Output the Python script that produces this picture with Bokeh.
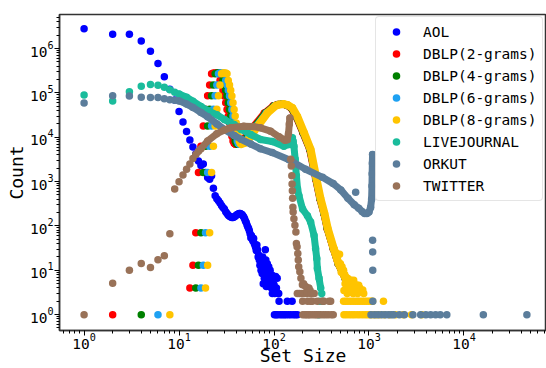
from bokeh.plotting import figure
from bokeh.models import Range1d, FixedTicker, LogTickFormatter, Legend, LegendItem
from bokeh.embed import file_html
from bokeh.resources import INLINE

# ---------------- data ----------------
series_names = ["AOL", "DBLP(2-grams)", "DBLP(4-grams)", "DBLP(6-grams)", "DBLP(8-grams)",
                "LIVEJOURNAL", "ORKUT", "TWITTER"]

# AOL
aol_x = [1, 2, 3, 4, 5, 6, 7, 8, 9, 10, 11, 12, 13, 14, 15, 16, 17, 18, 19, 20,
         21, 22, 23, 24, 25, 26, 27, 28, 29, 30, 31, 32, 33, 34, 35, 36, 37, 38, 39, 40,
         41, 42, 43, 44, 45, 46, 47, 48, 49, 50, 51, 52, 53, 54, 55, 56, 57, 58, 59, 60,
         61, 62, 63, 64, 65, 66, 67, 68, 69, 70, 71, 72, 73, 74, 75, 76, 77, 78, 79, 80,
         81, 82, 83, 84, 85, 86, 87, 88, 89, 90, 91, 92, 94, 95, 96, 98, 100, 102, 104, 106,
         108, 110, 112, 113, 138, 155,
         101, 105, 109, 116, 122, 128, 134, 142, 150, 160, 168, 176]
aol_y = [2.8e6, 2.1e6, 2.1e6, 1.48e6, 8.7e5, 4.6e5, 2.3e5, 1.2e5, 6.9e4, 3.8e4,
         2.2e4, 1.35e4, 8.7e3, 6.0e3, 4.2e3, 2.9e3, 2.3e3, 2.5e3, 1.6e3, 1.24e3,
         1.13e3, 1.35e3, 710, 480, 410, 370, 330, 290, 260, 240,
         210, 190, 175, 165, 160, 155, 155, 160, 165, 175,
         180, 185, 190, 190, 185, 180, 170, 160, 145, 130,
         120, 105, 95, 87, 78, 67, 54, 60, 50, 46,
         52, 40, 37, 33, 28, 37, 29, 20, 22, 17,
         13, 17, 10, 13, 8.5, 20, 5, 12, 6.6, 10,
         29, 17, 4.3, 8, 14, 7.8, 5, 12, 4.7, 7,
         10, 6, 4, 7.8, 3, 5, 4.7, 3, 7.2, 4,
         6.6, 3, 3, 2, 2, 2,
         1, 1, 1, 1, 1, 1, 1, 1, 1, 1, 1, 1]

# DBLP: isolated points (shared counts, x shifted by the gram length)
dblp_sparse_counts = [1, 4, 13, 70, 1.6e3, 6.3e3, 1.8e4, 4.3e4, 8.6e4, 1.5e5,
                      2.7e5, 2.8e5, 2.8e5, 2.8e5, 2.7e5, 1.9e5, 1.5e5, 1.15e5, 8.5e4, 6.0e4,
                      4.2e4, 3.0e4, 2.1e4, 1.45e4, 1.05e4, 8.2e3, 7.3e3, 7.0e3]
dblp2_sparse_x = [2, 13, 14, 15, 16, 17, 18, 19, 20, 21, 22, 23, 24, 25, 26, 27, 28, 29,
                  30, 31, 32, 33, 34, 35, 36, 37, 38, 39]
dblp4_sparse_x = [4, 15, 16, 17, 18, 19, 20, 21, 22, 23, 24, 25, 26, 27, 28, 29, 30, 31,
                  32, 33, 34, 35, 36, 37, 38, 39, 40, 41]
dblp6_sparse_x = [6, 17, 18, 19, 20, 21, 22, 23, 24, 25, 26, 27, 28, 29, 30, 31, 32, 33,
                  34, 35, 36, 37, 38, 39, 40, 41, 42, 43]
dblp8_sparse_x = [8, 19, 20, 21, 22, 23, 24, 25, 26, 27, 28, 29, 30, 31, 32, 33, 34, 35,
                  36, 37, 38, 39, 40, 41, 42, 43, 44, 45]
# DBLP: dense part (drawn as a band)
dblp_curve_counts = [7.0e3, 7.5e3, 1.0e4, 1.77e4, 3.5e4, 5.1e4, 5.5e4, 5.6e4, 5.3e4, 4.6e4,
                     2.95e4, 1.26e4, 5.3e3, 1.14e3, 410, 190, 87, 31, 14.3, 6.6, 5.2]
dblp2_curve_x = [39, 44, 50, 61, 79, 98, 109, 121, 134, 150, 170, 201, 237, 274, 303, 334,
                 362, 419, 471, 559, 614]
dblp4_curve_x = [41, 46, 52, 63, 81, 100, 111, 123, 136, 152, 172, 203, 239, 276, 305, 336,
                 364, 421, 473, 561, 616]
dblp6_curve_x = [43, 48, 54, 65, 83, 102, 113, 125, 138, 154, 174, 205, 241, 278, 307, 338,
                 366, 423, 475, 563, 618]
dblp8_curve_x = [45, 50, 56, 67, 85, 104, 115, 127, 140, 156, 176, 207, 243, 280, 309, 340,
                 368, 425, 477, 565, 620]
# DBLP(8-grams): low-count tail
dblp8_tail_x = [430, 450, 470, 490, 460, 480, 500, 520, 540, 510, 530, 555, 575, 600, 625,
                650, 690, 560, 610, 640, 700, 750, 780, 580, 660, 720, 800, 860, 590, 680,
                760, 880, 545, 705,
                540, 570, 600, 640, 680, 720, 760, 800, 850, 900, 950, 1000, 1050, 1090, 1420,
                545, 580, 620, 660, 700, 750, 800, 860, 920, 980, 1040, 1120, 1200, 1300,
                1450, 1650, 1900, 2300, 2800, 3600]
dblp8_tail_y = [30, 25, 22, 23, 18, 15, 14, 12, 10, 9, 9.5, 8, 7, 6.5, 6,
                6, 6, 5, 5, 5, 5, 4.6, 4.6, 4, 4, 4, 4, 3.6, 3, 3,
                3, 3, 3.5, 3.5,
                2, 2, 2, 2, 2, 2, 2, 2, 2, 2, 2, 2, 2, 2, 2,
                1, 1, 1, 1, 1, 1, 1, 1, 1, 1, 1, 1, 1, 1,
                1, 1, 1, 1, 1, 1]

# LIVEJOURNAL
lj_sparse_x = [1, 2, 3, 4, 5, 6, 7, 8, 9, 318, 303, 325, 295]
lj_sparse_y = [9.0e4, 6.6e4, 1.06e5, 1.41e5, 1.54e5, 1.48e5, 1.34e5, 1.17e5, 1.03e5,
               3, 2, 2, 1]
lj_curve_x = [10, 12, 14, 17, 20, 25, 30, 38, 45, 57, 72, 96, 127, 144, 152, 156, 159,
              162, 167, 172, 177, 183, 200, 225, 243, 264, 274, 282, 286, 298, 310]
lj_curve_y = [9.4e4, 8.0e4, 6.5e4, 4.95e4, 4.0e4, 3.2e4, 2.5e4, 1.93e4, 1.5e4, 1.15e4,
              8.9e3, 8.0e3, 6.3e3, 6.9e3, 8.5e3, 9.7e3, 8.0e3, 6.3e3, 3.2e3, 1.35e3,
              680, 480, 240, 170, 122, 61, 31, 18.5, 11, 6.6, 4]

# ORKUT
ork_sparse_x = [1, 2, 3, 4, 5, 6, 7, 8, 9, 724, 1092, 1094, 1096, 1098,
                1050, 1150, 1250, 1360, 1480, 1600, 1720, 1820, 2090, 2360, 2900, 3500,
                3970, 4460, 5030, 5630, 6600, 16000, 46000]
ork_sparse_y = [5.9e4, 8.6e4, 8.5e4, 8.0e4, 7.9e4, 7.9e4, 7.4e4, 7.0e4, 6.8e4, 574,
                47.5, 26, 10, 2,
                1, 1, 1, 1, 1, 1, 1, 1, 1, 1, 1, 1,
                1, 1, 1, 1, 1, 1, 1]
ork_curve_x = [10, 12, 14, 17, 20, 25, 30, 38, 45, 57, 72, 96, 144, 215, 324, 420, 505,
               600, 700, 780, 850, 900, 950, 1000, 1040, 1065, 1075, 1080, 1085, 1090]
ork_curve_y = [6.6e4, 5.6e4, 4.7e4, 3.6e4, 2.9e4, 2.0e4, 1.5e4, 1.1e4, 9.0e3, 7.0e3,
               5.5e3, 4.5e3, 3.1e3, 1.9e3, 1.25e3, 900, 650, 420, 300, 250,
               210, 190, 190, 205, 260, 400, 800, 1500, 2600, 4100]

# TWITTER
tw_sparse_x = [1, 2, 3, 4, 5, 6, 7, 8, 9, 10, 11, 12, 13, 14, 15,
               150, 152, 154, 155, 156, 157, 158, 159, 162, 166, 170, 172, 175, 178, 180,
               182, 187, 192, 199, 215, 233, 205, 225, 240,
               176, 185, 195, 210, 222, 245, 265,
               200, 226, 243, 253, 286, 323, 335, 380, 395,
               201, 212, 220, 230, 238, 252, 267, 278, 292, 310, 330, 350, 372, 400, 420]
tw_sparse_y = [1, 5.1, 10, 14.3, 11.5, 17.3, 21.3, 67, 680, 990, 1.4e3, 1.9e3, 2.5e3,
               3.3e3, 4.1e3,
               3.2e3, 2.26e3, 1.35e3, 880, 624, 420, 265, 205, 145, 103, 73, 40, 34, 24, 17,
               12, 9.3, 6.6, 4.7, 4.3, 4, 5, 4, 3.5,
               3, 3, 3, 3, 3, 3, 3,
               2, 2, 2, 2, 2, 2, 2, 2, 2,
               1, 1, 1, 1, 1, 1, 1, 1, 1, 1, 1, 1, 1, 1, 1]
tw_curve_x = [16, 17, 20, 25, 30, 35, 48, 60, 72, 92, 113, 130, 138, 142, 145, 147]
tw_curve_y = [4.8e3, 5.5e3, 8.2e3, 1.2e4, 1.45e4, 1.63e4, 1.77e4, 1.75e4, 1.63e4, 1.37e4,
              1.02e4, 8.6e3, 8.8e3, 1.2e4, 2.0e4, 2.7e4]

x_ticks = [1, 10, 100, 1000, 10000]
y_ticks = [1, 10, 100, 1000, 10000, 100000, 1000000]
x_label = "Set Size"
y_label = "Count"

colors = {
    "AOL": "#0000ff",
    "DBLP(2-grams)": "#ff0000",
    "DBLP(4-grams)": "#008000",
    "DBLP(6-grams)": "#1ea1f2",
    "DBLP(8-grams)": "#ffc400",
    "LIVEJOURNAL": "#1abc9c",
    "ORKUT": "#5b7d9b",
    "TWITTER": "#997258",
}

# ---------------- figure ----------------
FONT = "DejaVu Sans Mono"
p = figure(width=546, height=368, x_axis_type="log", y_axis_type="log",
           x_range=Range1d(0.551, 7.4e4), y_range=Range1d(0.439, 5.85e6),
           output_backend="svg", toolbar_location=None,
           min_border_left=59, min_border_right=0, min_border_top=14, min_border_bottom=35)
p.xgrid.visible = False
p.ygrid.visible = False
p.outline_line_color = "#333333"
p.outline_line_width = 1.5
p.background_fill_color = "white"
p.border_fill_color = "white"

minor = [m * 10.0 ** k for k in range(-1, 7) for m in range(2, 10)]
p.xaxis.ticker = FixedTicker(ticks=x_ticks, minor_ticks=minor)
p.yaxis.ticker = FixedTicker(ticks=y_ticks, minor_ticks=minor)
for ax in (p.xaxis[0], p.yaxis[0]):
    ax.formatter = LogTickFormatter()
    ax.major_label_text_font = FONT
    ax.major_label_text_font_size = "14.5px"
    ax.major_label_text_color = "black"
    ax.axis_label_text_font = FONT
    ax.axis_label_text_font_size = "18px"
    ax.axis_label_text_font_style = "normal"
    ax.axis_label_text_color = "black"
    ax.axis_line_color = "#333333"
    ax.axis_line_width = 1.5
    ax.major_tick_in = 0
    ax.major_tick_out = 5
    ax.minor_tick_in = 0
    ax.minor_tick_out = 3
    ax.major_tick_line_color = "black"
    ax.minor_tick_line_color = "black"
p.xaxis.axis_label = x_label
p.yaxis.axis_label = y_label
p.xaxis.major_label_standoff = -3
p.xaxis.axis_label_standoff = -7
p.xaxis.axis_label_text_baseline = "top"
p.yaxis.major_label_standoff = 1
p.yaxis.axis_label_standoff = 0

SIZE = 7.5
items = []


def add_series(name, sparse_x, sparse_y, curve_x=None, curve_y=None, width=7):
    c = colors[name]
    if curve_x is not None:
        p.line(curve_x, curve_y, line_width=width, line_color=c,
               line_cap="round", line_join="round")
        p.scatter(curve_x, curve_y, size=SIZE, fill_color=c, line_color=None)
    r = p.scatter(sparse_x, sparse_y, size=SIZE, fill_color=c, line_color=None)
    items.append(LegendItem(label=name, renderers=[r]))
    return r


add_series("AOL", aol_x, aol_y)
add_series("DBLP(2-grams)", dblp2_sparse_x, dblp_sparse_counts, dblp2_curve_x, dblp_curve_counts)
add_series("DBLP(4-grams)", dblp4_sparse_x, dblp_sparse_counts, dblp4_curve_x, dblp_curve_counts)
add_series("DBLP(6-grams)", dblp6_sparse_x, dblp_sparse_counts, dblp6_curve_x, dblp_curve_counts)
add_series("DBLP(8-grams)", dblp8_sparse_x, dblp_sparse_counts, dblp8_curve_x, dblp_curve_counts, width=8)
p.scatter(dblp8_tail_x, dblp8_tail_y, size=SIZE, fill_color=colors["DBLP(8-grams)"], line_color=None)
add_series("LIVEJOURNAL", lj_sparse_x, lj_sparse_y, lj_curve_x, lj_curve_y)
add_series("ORKUT", ork_sparse_x, ork_sparse_y, ork_curve_x, ork_curve_y)
add_series("TWITTER", tw_sparse_x, tw_sparse_y, tw_curve_x, tw_curve_y)

legend = Legend(items=items, location=(316, 129))
legend.label_text_font = FONT
legend.label_text_font_size = "14.5px"
legend.label_text_color = "black"
legend.border_line_color = "#cccccc"
legend.border_line_width = 1
legend.background_fill_alpha = 0.85
legend.padding = 5
legend.spacing = 3
legend.glyph_width = 30
legend.glyph_height = 19
legend.label_height = 19
legend.label_standoff = 12
legend.margin = 0
if "border_radius" in legend.properties():
    legend.border_radius = 4
p.add_layout(legend)

open("out.html", "w").write(file_html(p, INLINE))
